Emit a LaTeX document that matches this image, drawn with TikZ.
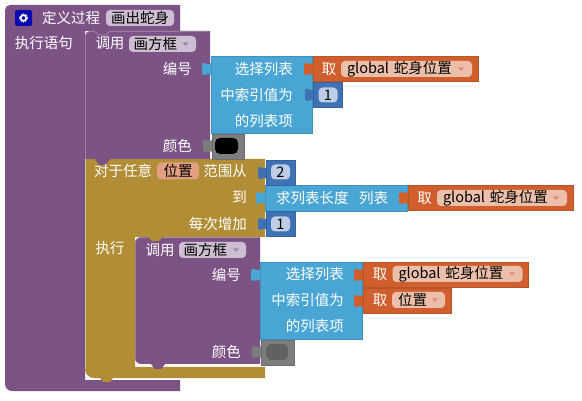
\documentclass[tikz,border=0pt]{standalone}
\usepackage{fontspec}
\setmainfont{Noto Sans CJK SC}
\definecolor{procC}{HTML}{7C5385}
\definecolor{ctrlC}{HTML}{B18E35}
\definecolor{listC}{HTML}{49A6D4}
\definecolor{varC}{HTML}{D05F2D}
\definecolor{mathC}{HTML}{3F71B5}
\definecolor{grayC}{HTML}{7D7D7D}
\tikzset{
	lbl/.style={text=white, inner sep=0pt, font=\fontsize{14.5}{16}\selectfont},
	lblR/.style={lbl, anchor=east},
	blk/.style={fill=#1, draw=#1!88!black, line width=0.5pt},
	field/.style={fill=#1, rounded corners=4pt, inner sep=0pt, text=black, font=\fontsize{14.5}{16}\selectfont},
}
\newcommand{\plugAt}[3]{%
	\begin{scope}[shift={(#2,#3)}]
		\fill[#1, rounded corners=1.5pt] (1,-7)--(-2,-4.5)--(-4,-4.5)--(-5,-6)--(-9,-6)--(-9,6)--(-5,6)--(-4,4.5)--(-2,4.5)--(1,7)--cycle;
	\end{scope}}
\newcommand{\ddAt}[3]{\fill[#1] (#2-3,#3-1.5)--(#2+3,#3-1.5)--(#2,#3+2)--cycle;}
\begin{document}
\begin{tikzpicture}[x=1pt, y=-1pt]
	\useasboundingbox[fill=white] (0,0) rectangle (582,401);
	%定义过程
	\fill[procC] (180,5)--(180,31)--(85,31)--(85,380)--(180,380)--(180,391) [rounded corners=7pt]--(5,391) [rounded corners=5pt]--(5,5) [sharp corners]--cycle;
	%对于任意
	\fill[ctrlC] (85,159)--(265,159)--(265,237)--(135,237)--(135,367)--(265,367)--(265,378) [rounded corners=9pt]--(85,378) [sharp corners]--cycle;
	\draw[white!45!ctrlC, line width=0.6pt] (85.3,159)--(85.3,369);
	\fill[ctrlC] (100,378)--(113,378)--(110,382)--(103,382)--cycle;
	%调用
	\fill[procC] (210,31)--(210,159)--(85,159) [rounded corners=5pt]--(85,31) [sharp corners]--cycle;
	\fill[procC] (95,159)--(110,159)--(106,165)--(99,165)--cycle;
	\draw[white!35!procC, line width=0.6pt] (85.3,159) [rounded corners=5pt]--(85.3,31.3) [sharp corners]--(94,31.3)--(99,35)--(106,35)--(110,31.3)--(209,31.3);
	\fill[procC] (260,237)--(260,364) [rounded corners=6pt]--(135,364)--(135,237) [sharp corners]--cycle;
	\fill[procC] (151,364)--(165,364)--(161,369)--(155,369)--cycle;
	\fill[ctrlC] (148,236.5)--(163,236.5)--(159,241)--(152,241)--cycle;
	\draw[white!35!procC, line width=0.6pt] (135.4,358) [rounded corners=5pt]--(135.4,237.4) [sharp corners]--(148,237.4);
	\draw[white!35!procC, line width=0.6pt] (163,237.4)--(259,237.4);
	%選択
	\plugAt{listC}{211}{69}
	\fill[blk=listC] (211,56) rectangle (312,133);
	\plugAt{listC}{260}{275}
	\fill[blk=listC] (260,262) rectangle (362,339);
	\plugAt{listC}{265}{198}
	\fill[blk=listC] (265,185) rectangle (407,211);
	%取
	\foreach \bx/\by/\bw in {312/56/478, 407/185/573, 362/262/528, 362/288/451}{
		\plugAt{varC}{\bx+1}{\by+13}
		\fill[blk=varC] (\bx+1,\by) rectangle (\bw,\by+25);
	}
	%数
	\foreach \bx/\by in {342/82, 295/160, 295/211}{
		\plugAt{mathC}{\bx-28}{\by+13}
		\fill[blk=mathC] (\bx-29,\by) rectangle (\bx,\by+25);
	}
	%色
	\plugAt{grayC}{212}{146}
	\fill[blk=grayC] (212,134) rectangle (244,159);
	\plugAt{grayC}{261}{352}
	\fill[blk=grayC] (261,340) rectangle (294,365);
	\fill[black, rounded corners=5pt] (215,138) rectangle (238,154);
	\fill[black!62, rounded corners=5pt] (266,344) rectangle (288,360);
	%歯車
	\fill[white!5!blue!70!black, rounded corners=2pt] (15,10) rectangle (32,26);
	\draw[white, line width=1.8pt, dash pattern=on 1pt off 0.8pt] (23.5,18) circle (3.6pt);
	\draw[white, line width=1.2pt] (23.5,18) circle (2.6pt);
	%文字
	\node[lbl] (defLbl) at (71,18) {定义过程};
	\node[field=white!62!procC, minimum width=68pt, minimum height=16pt] (nameFld) at (140,18) {画出蛇身};
	\node[lbl] (doLbl) at (44,43) {执行语句};
	\node[lbl] (callA) at (110,43) {调用};
	\node[field=white!62!procC, minimum width=67pt, minimum height=16pt, text width=58pt] (callFldA) at (162.5,44) {画方框};
	\ddAt{procC!70}{185.5}{44}
	\node[lblR] (numA) at (192,69) {编号};
	\node[lblR] (colA) at (192,146) {颜色};
	\node[lblR] (selA) at (293,69) {选择列表};
	\node[lblR] (idxA) at (293,95) {中索引值为};
	\node[lblR] (itmA) at (293,121) {的列表项};
	%
	\node[lbl, anchor=west] (forLbl) at (94,171) {对于任意};
	\node[field=white!40!varC, minimum width=42pt, minimum height=17pt] (varFld) at (178,171) {位置};
	\node[lblR] (rngLbl) at (247,171) {范围从};
	\node[lblR] (toLbl) at (247,197) {到};
	\node[lblR] (stpLbl) at (247,224) {每次增加};
	\node[lbl] (runLbl) at (110,248) {执行};
	\node[field=white!65!mathC, minimum width=19pt, minimum height=15pt] (numTwo) at (280.5,172) {2};
	\node[field=white!65!mathC, minimum width=19pt, minimum height=15pt] (numOneB) at (280.5,224) {1};
	\node[field=white!65!mathC, minimum width=19pt, minimum height=15pt] (numOneA) at (328,95) {1};
	\node[lbl, anchor=west] (lenLbl) at (276,198) {求列表长度};
	\node[lbl, anchor=west] (lstLbl) at (359,198) {列表};
	%
	\node[lbl] (callB) at (160,250) {调用};
	\node[field=white!62!procC, minimum width=67pt, minimum height=16pt, text width=58pt] (callFldB) at (212.5,250) {画方框};
	\ddAt{procC!70}{236}{250}
	\node[lblR] (numB) at (241,275) {编号};
	\node[lblR] (colB) at (241,352) {颜色};
	\node[lblR] (selB) at (344,274) {选择列表};
	\node[lblR] (idxB) at (344,300) {中索引值为};
	\node[lblR] (itmB) at (344,326) {的列表项};
	%取の欄
	\foreach \nm/\tx/\ty/\fx/\fw/\dx/\vtxt in {gA/329/69/406.5/131/461/global 蛇身位置, gB/424.5/198/502/130/556/global 蛇身位置, gC/380/274/457.5/130/512/global 蛇身位置, gD/380/300/418.5/53/435/位置}{
		\node[lbl] (t\nm) at (\tx,\ty) {取};
		\node[field=white!60!varC, minimum width=\fw pt, minimum height=16pt, text width=\fw pt-12pt, align=left] (f\nm) at (\fx,\ty) {\vtxt};
		\ddAt{varC!70}{\dx}{\ty}
	}
\end{tikzpicture}
\end{document}
